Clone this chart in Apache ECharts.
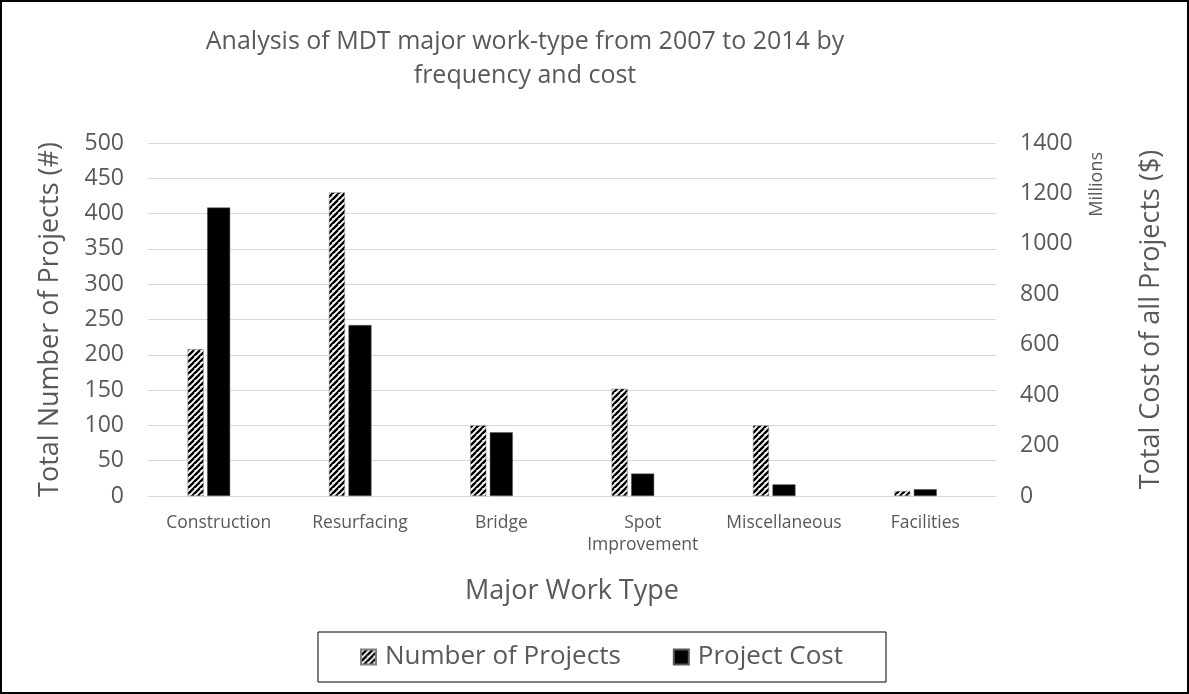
<!DOCTYPE html>
<html>
<head>
<meta charset="utf-8">
<script src="https://cdn.jsdelivr.net/npm/echarts@6/dist/echarts.min.js"></script>
<style>
  html, body { margin: 0; padding: 0; background: #fff; }
  #frame { width: 1189px; height: 694px; box-sizing: border-box; border: 2px solid #000; }
  #main { width: 100%; height: 100%; }
</style>
</head>
<body>
<div id="frame"><div id="main"></div></div>
<script>
var categories = ['Construction', 'Resurfacing', 'Bridge', 'Spot\nImprovement', 'Miscellaneous', 'Facilities'];
var numberOfProjects = [208, 430, 100, 152, 100, 7];
var projectCost = [1144, 678, 253, 89, 46, 27]; // millions of $
var leftTicks = { min: 0, max: 500, interval: 50 };
var rightTicks = { min: 0, max: 1400, interval: 200 };

// hatch pattern: wide upward diagonal
function makeHatch() {
    var c = document.createElement('canvas');
    c.width = 6; c.height = 6;
    var ctx = c.getContext('2d');
    ctx.fillStyle = '#fff';
    ctx.fillRect(0, 0, 6, 6);
    ctx.strokeStyle = '#000';
    ctx.lineWidth = 2.4;
    ctx.beginPath();
    for (var k = -6; k <= 12; k += 6) {
        ctx.moveTo(k - 6, 12);
        ctx.lineTo(k + 6, 0);
    }
    ctx.stroke();
    return c;
}
var hatch = { image: makeHatch(), repeat: 'repeat' };

var myChart = echarts.init(document.getElementById('main'));
var textColor = '#595959';
var font = 'Open Sans';
var plain = function (v) { return String(v); };

var option = {
    textStyle: { fontFamily: font },
    title: {
        text: 'Analysis of MDT major work-type from 2007 to 2014 by\nfrequency and cost',
        left: 518,
        textAlign: 'center',
        top: 18,
        textStyle: { color: textColor, fontFamily: font, fontSize: 25, fontWeight: 'normal', lineHeight: 34 }
    },
    legend: {
        data: ['Number of Projects', 'Project Cost'],
        top: 630,
        left: 316,
        itemWidth: 15,
        itemHeight: 15,
        itemGap: 52,
        padding: [12, 43, 12, 42],
        borderColor: '#000',
        borderWidth: 1,
        icon: 'rect',
        textStyle: { color: textColor, fontSize: 26, fontFamily: font, padding: [0, 0, 0, 4] }
    },
    grid: {
        left: 146,
        right: 191,
        top: 141,
        bottom: 196
    },
    xAxis: {
        type: 'category',
        data: categories,
        name: 'Major Work Type',
        nameLocation: 'middle',
        nameGap: 82,
        nameTextStyle: { color: textColor, fontSize: 27 },
        axisLine: { lineStyle: { color: '#d9d9d9' } },
        axisTick: { show: false },
        axisLabel: { color: textColor, fontSize: 17.5, margin: 16, lineHeight: 22, interval: 0 }
    },
    yAxis: [
        {
            type: 'value',
            min: leftTicks.min,
            max: leftTicks.max,
            interval: leftTicks.interval,
            name: 'Total Number of Projects (#)',
            nameLocation: 'middle',
            nameGap: 84,
            nameTextStyle: { color: textColor, fontSize: 27 },
            axisLabel: { color: textColor, fontSize: 23, margin: 24, formatter: plain },
            splitLine: { lineStyle: { color: '#d9d9d9' } },
            axisLine: { show: false },
            axisTick: { show: false }
        },
        {
            type: 'value',
            min: rightTicks.min,
            max: rightTicks.max,
            interval: rightTicks.interval,
            name: 'Total Cost of all Projects ($)',
            nameLocation: 'middle',
            nameRotate: 90,
            nameGap: 142,
            nameTextStyle: { color: textColor, fontSize: 27 },
            axisLabel: { color: textColor, fontSize: 23, margin: 24, formatter: plain },
            splitLine: { show: false },
            axisLine: { show: false },
            axisTick: { show: false }
        }
    ],
    graphic: [{
        type: 'text',
        left: 1086,
        top: 150,
        rotation: Math.PI / 2,
        style: { text: 'Millions', fill: textColor, font: '18px "Open Sans"' }
    }],
    series: [
        {
            name: 'Number of Projects',
            type: 'bar',
            yAxisIndex: 0,
            barWidth: 16,
            barGap: '22%',
            barCategoryGap: '0%',
            itemStyle: { color: hatch, borderColor: '#7f7f7f', borderWidth: 0.5 },
            data: numberOfProjects
        },
        {
            name: 'Project Cost',
            type: 'bar',
            yAxisIndex: 1,
            barWidth: 23,
            itemStyle: { color: '#000', borderColor: '#595959', borderWidth: 0.5 },
            data: projectCost
        },
        {
            // empty spacer so the cost bar sits centred on its category
            name: 'spacer',
            type: 'bar',
            yAxisIndex: 1,
            barWidth: 14.5,
            data: []
        }
    ]
};

myChart.setOption(option);
</script>
</body>
</html>
